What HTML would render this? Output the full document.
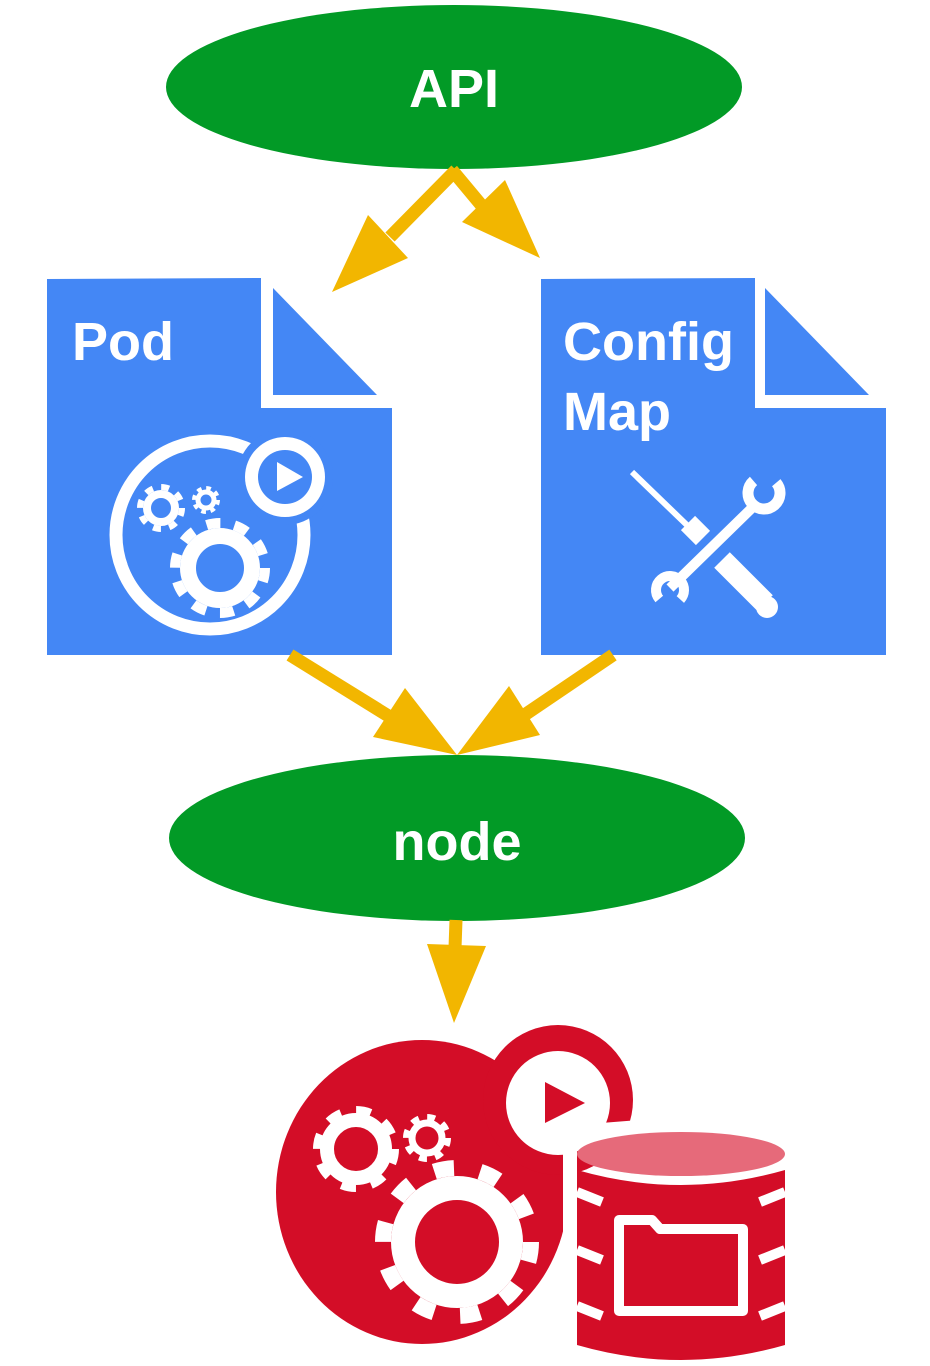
<!DOCTYPE html>
<html><head><meta charset="utf-8"><style>html,body{margin:0;padding:0;background:#fff}svg{display:block}</style></head>
<body>
<svg width="930" height="1366" viewBox="0 0 930 1366" xmlns="http://www.w3.org/2000/svg">
<ellipse cx="454" cy="87" rx="288" ry="82" fill="#029a26"/>
<text x="454" y="107" text-anchor="middle" font-family="Liberation Sans, sans-serif" font-weight="bold" font-size="54" fill="#fff">API</text>
<g fill="#f2b600" stroke="none">
<line x1="456" y1="170" x2="390" y2="237" stroke="#f2b600" stroke-width="13"/>
<polygon points="332,292 368,215 408,258"/>
<line x1="452" y1="170" x2="482" y2="206" stroke="#f2b600" stroke-width="13"/>
<polygon points="540,258 505,180 462,222"/>
</g>
<polygon points="47,279 261,278 261,408 392,408 392,655 47,655" fill="#4487f5"/>
<polygon points="273,288 273,395 377,395" fill="#4487f5"/>
<text x="72" y="360" font-family="Liberation Sans, sans-serif" font-weight="bold" font-size="54" fill="#fff">Pod</text>
<circle cx="210" cy="535" r="94" fill="none" stroke="#fff" stroke-width="13"/>
<circle cx="285" cy="477" r="48" fill="#4487f5"/>
<circle cx="285" cy="477" r="40" fill="#fff"/>
<circle cx="285" cy="477" r="27" fill="#4487f5"/>
<polygon points="277,462 303,477 277,491" fill="#fff"/>
<g fill="none" stroke="#fff">
<circle cx="220" cy="568" r="32" stroke-width="16"/>
<circle cx="220" cy="568" r="45" stroke-width="10" stroke-dasharray="14 14.3"/>
<circle cx="161" cy="508" r="14" stroke-width="8"/>
<circle cx="161" cy="508" r="21" stroke-width="6" stroke-dasharray="8 8.5"/>
<circle cx="206" cy="500" r="8" stroke-width="5"/>
<circle cx="206" cy="500" r="12" stroke-width="4" stroke-dasharray="4.7 4.7"/>
</g>
<polygon points="541,279 755,278 755,408 886,408 886,655 541,655" fill="#4487f5"/>
<polygon points="765,288 765,395 869,395" fill="#4487f5"/>
<text x="563" y="360" font-family="Liberation Sans, sans-serif" font-weight="bold" font-size="54" fill="#fff">Config</text>
<text x="563" y="430" font-family="Liberation Sans, sans-serif" font-weight="bold" font-size="54" fill="#fff">Map</text>
<g stroke="#fff" stroke-linecap="butt" fill="none">
<line x1="632" y1="472" x2="690" y2="528" stroke-width="6"/>
<line x1="688" y1="523" x2="703" y2="538" stroke-width="20"/>
<line x1="722" y1="560" x2="765" y2="603" stroke-width="22"/>
<line x1="755" y1="505" x2="670" y2="588" stroke-width="10"/>
<circle cx="764" cy="493" r="16" stroke-width="11" stroke-dasharray="75 26" transform="rotate(-40 764 493)"/>
<circle cx="670" cy="590" r="14" stroke-width="10" stroke-dasharray="64 24" transform="rotate(140 670 590)"/>
</g>
<circle cx="767" cy="607" r="11" fill="#fff"/>
<g fill="#f2b600">
<line x1="290" y1="655" x2="395" y2="720" stroke="#f2b600" stroke-width="13"/>
<polygon points="457,755 373,737 405,688"/>
<line x1="613" y1="655" x2="520" y2="718" stroke="#f2b600" stroke-width="13"/>
<polygon points="457,755 509,686 540,735"/>
</g>
<ellipse cx="457" cy="838" rx="288" ry="83" fill="#029a26"/>
<text x="457" y="860" text-anchor="middle" font-family="Liberation Sans, sans-serif" font-weight="bold" font-size="54" fill="#fff">node</text>
<line x1="456" y1="920" x2="455" y2="948" stroke="#f2b600" stroke-width="13"/>
<polygon points="427,944 486,946 454,1023" fill="#f2b600"/>
<ellipse cx="422" cy="1192" rx="146" ry="152" fill="#d30d27"/>
<circle cx="558" cy="1100" r="75" fill="#d30d27"/>
<rect x="563" y="1150" width="14" height="216" fill="#fff"/>
<polygon points="563,1126 640,1120 640,1150 563,1150" fill="#fff"/>
<circle cx="558" cy="1103" r="52" fill="#fff"/>
<polygon points="545,1082 585,1103 545,1123" fill="#d30d27"/>
<path d="M577,1170 Q681,1200 785,1170 L785,1345 Q681,1375 577,1345 Z" fill="#d30d27"/>
<ellipse cx="681" cy="1154" rx="104" ry="22" fill="#e66a7a"/>
<g stroke="#fff" stroke-width="10">
<line x1="577" y1="1192" x2="602" y2="1202"/><line x1="577" y1="1250" x2="602" y2="1260"/><line x1="577" y1="1306" x2="602" y2="1316"/>
<line x1="785" y1="1192" x2="760" y2="1202"/><line x1="785" y1="1250" x2="760" y2="1260"/><line x1="785" y1="1306" x2="760" y2="1316"/>
</g>
<path d="M619,1220 L652,1220 L660,1229 L743,1229 L743,1311 L619,1311 Z" fill="none" stroke="#fff" stroke-width="10" stroke-linejoin="round"/>
<g fill="none" stroke="#fff">
<circle cx="457" cy="1242" r="54" stroke-width="24"/>
<circle cx="457" cy="1242" r="74" stroke-width="16" stroke-dasharray="20 26.5"/>
<circle cx="356" cy="1149" r="29" stroke-width="14"/>
<circle cx="356" cy="1149" r="39" stroke-width="8" stroke-dasharray="15 15.6"/>
<circle cx="427" cy="1138" r="15" stroke-width="7"/>
<circle cx="427" cy="1138" r="21" stroke-width="6" stroke-dasharray="8 8.5"/>
</g>
</svg>
</body></html>
